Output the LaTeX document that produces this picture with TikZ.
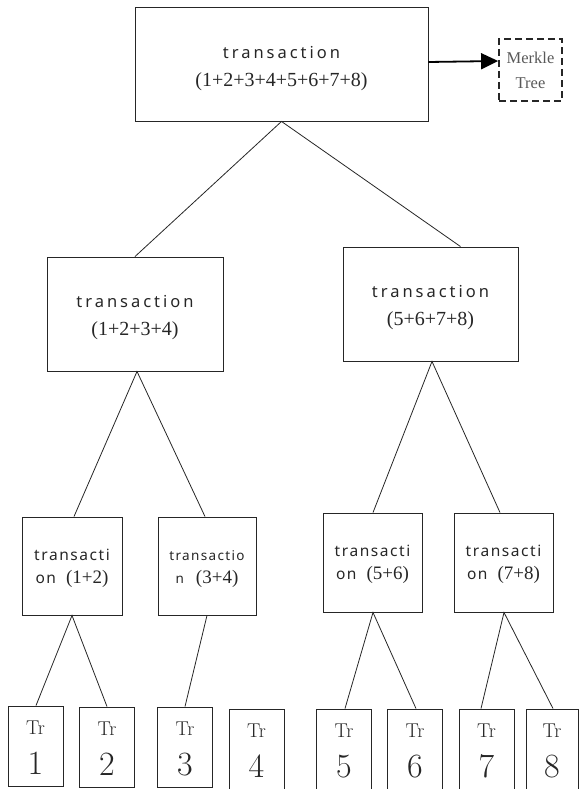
\documentclass[tikz,border=0pt]{standalone}
\usepackage{fontspec}
\usetikzlibrary{arrows.meta}
\newfontfamily\lblsans[LetterSpace=18]{Noto Sans}
\newfontfamily\lblsanssm[LetterSpace=10]{Noto Sans}
\newfontfamily\lblserif{Liberation Serif}
% word set in a tracked sans face, numbers set in the serif face
\newcommand{\txt}[1]{{\lblsans\fontsize{16.5}{28}\selectfont #1}}
\newcommand{\txtsm}[2][15.5]{{\lblsanssm\fontsize{#1}{23}\selectfont #2}}
\newcommand{\nums}[2][20]{{\lblserif\fontsize{#1}{28}\selectfont #2}}
% struts fixing the height above the first baseline and the depth below the last
\newcommand{\hstrut}[1]{\rule{0pt}{#1}}
\newcommand{\dstrut}[1]{\rule[-#1]{0pt}{#1}}
\begin{document}
\begin{tikzpicture}[x=1pt,y=-1pt,
  box/.style={draw=black!85,line width=0.9pt,rectangle,inner sep=0pt,align=center,text=black!85},
  bigbox/.style={box,minimum width=#1,minimum height=114pt,font=\fontsize{20}{28}\selectfont},
  smallbox/.style={box,minimum width=99pt,minimum height=98pt,font=\fontsize{19}{23}\selectfont},
  leaf/.style={box,minimum width=55pt,minimum height=80pt,font=\fontsize{20}{40}\selectfont},
  link/.style={draw=black!85,line width=0.8pt}]
\useasboundingbox (0,0) rectangle (578,789);

% root
\node[bigbox=293pt] (root) at (281.5,64) {\hstrut{24pt}\txt{transaction}\\\nums{(1+2+3+4+5+6+7+8)}\dstrut{6pt}};
\node[box,line width=1.8pt,dash pattern=on 7pt off 4pt,minimum width=63pt,minimum height=62pt,
      font=\lblserif\fontsize{16.5}{25}\selectfont,text=black!65] (mk) at (530.5,70) {Merkle\\Tree};
\draw[line width=1.8pt,-{Triangle[length=17pt,width=16pt]}] (root.east |- 0,62) -- (mk.west |- 0,61);

% second level
\node[bigbox=176pt] (l) at (135,314) {\hstrut{20pt}\txt{transaction}\\\nums{(1+2+3+4)}\dstrut{6pt}};
\node[bigbox=175pt] (r) at (430.5,304) {\hstrut{20pt}\txt{transaction}\\\nums{(5+6+7+8)}\dstrut{6pt}};

% third level
\node[smallbox,minimum width=100pt] (a) at (72,566) {\hstrut{17pt}\txtsm{transacti}\\\txtsm{on}\hspace{10pt}\nums[19]{(1+2)}\dstrut{6pt}};
\node[smallbox,minimum width=98pt] (b) at (207,566) {\hstrut{17pt}\txtsm[13.5]{transactio}\\\txtsm[13.5]{n}\hspace{12pt}\nums[19]{(3+4)}\dstrut{6pt}};
\node[smallbox,minimum height=99pt] (c) at (372.5,562.5) {\hstrut{17pt}\txtsm{transacti}\\\txtsm{on}\hspace{10pt}\nums[19]{(5+6)}\dstrut{6pt}};
\node[smallbox,minimum height=99pt] (d) at (503.5,562.5) {\hstrut{17pt}\txtsm{transacti}\\\txtsm{on}\hspace{10pt}\nums[19]{(7+8)}\dstrut{6pt}};

% leaves
\newcommand{\leaftext}[1]{\hstrut{22pt}Tr\\{\fontsize{34}{40}\selectfont #1}\dstrut{6pt}}
\node[leaf] (t1) at (35.5,746) {\leaftext{1}};
\node[leaf] (t2) at (107,747) {\leaftext{2}};
\node[leaf] (t3) at (185,747) {\leaftext{3}};
\node[leaf] (t4) at (256.5,749) {\leaftext{4}};
\node[leaf] (t5) at (344,749) {\leaftext{5}};
\node[leaf] (t6) at (415,749) {\leaftext{6}};
\node[leaf] (t7) at (486.5,749) {\leaftext{7}};
\node[leaf,minimum width=52pt] (t8) at (552,749) {\leaftext{8}};

% connectors
\draw[link] ([xshift=30pt]r.north) -- (root.south) -- (l.north);
\draw[link] ([xshift=2pt]a.north) -- ([xshift=2pt]l.south) -- ([xshift=-2pt]b.north);
\draw[link] ([xshift=0.5pt]c.north) -- ([xshift=1.5pt]r.south) -- ([xshift=-3.5pt]d.north);
\draw[link] ([xshift=0.5pt]t1.north) -- (a.south) -- (t2.north);
\draw[link] (b.south) -- (t3.north);
\draw[link] ([xshift=1pt]t5.north) -- ([xshift=0.5pt]c.south) -- ([xshift=1pt]t6.north);
\draw[link] ([xshift=-5.5pt]t7.north) -- ([xshift=0.5pt]d.south) -- ([xshift=1pt]t8.north);
\end{tikzpicture}
\end{document}
